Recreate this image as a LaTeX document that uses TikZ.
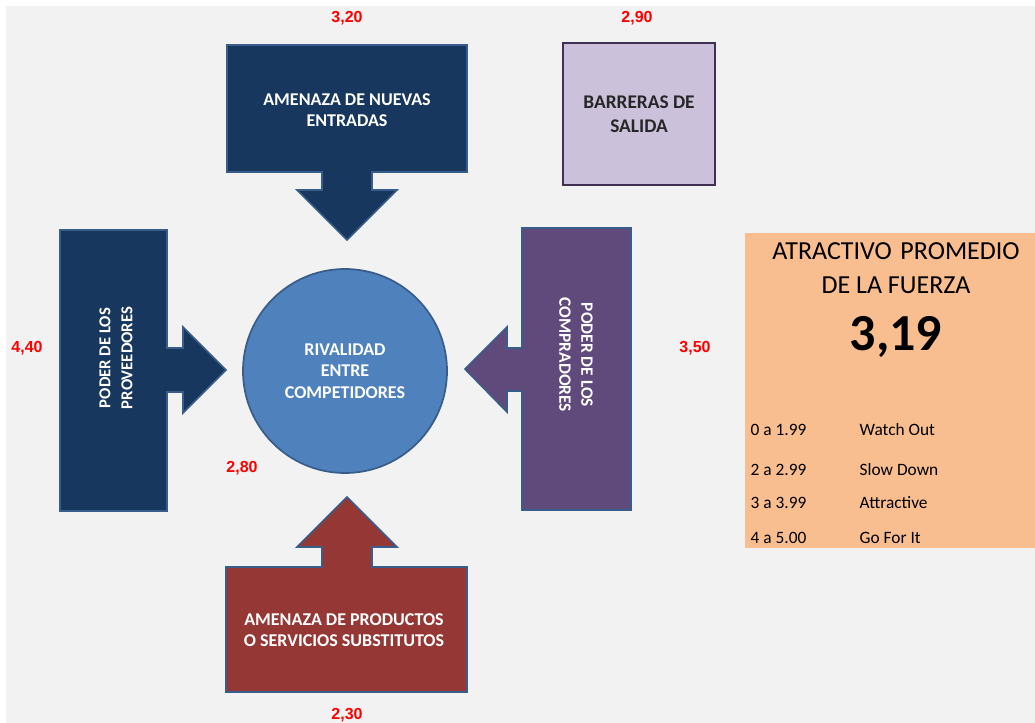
\documentclass[tikz,border=0pt]{standalone}
\usepackage{fontspec}
\setmainfont{Carlito}
\newfontfamily\numfont{Liberation Sans}
\usetikzlibrary{positioning}
\definecolor{bgray}{HTML}{F2F2F2}
\definecolor{navy}{HTML}{17375E}
\definecolor{edgeblue}{HTML}{385D8A}
\definecolor{plum}{HTML}{604A7B}
\definecolor{brick}{HTML}{953735}
\definecolor{disc}{HTML}{4F81BD}
\definecolor{lilac}{HTML}{CCC1DA}
\definecolor{lilacedge}{HTML}{403152}
\definecolor{peach}{HTML}{F9BE8F}
\tikzset{
  force/.style={draw=edgeblue, line width=1.3pt, line join=miter},
  forcetext/.style={text=white, font=\fontsize{13.5}{16}\selectfont\bfseries, align=center},
  score/.style={text=red, font=\numfont\fontsize{12}{14}\selectfont\bfseries},
  rangetext/.style={anchor=west, font=\fontsize{13}{15}\selectfont},
}

\begin{document}
\begin{tikzpicture}[x=0.75pt, y=-0.75pt]
			%%%%% START %%%%%
			\useasboundingbox (0, 0) rectangle (1035, 723);
			\fill[white] (0, 0) rectangle (1035, 723);
			\fill[bgray] (6, 6) rectangle (1035, 723);
			
			% nuevas entradas
			\draw[force, fill=navy] (227, 45) -- (467, 45) -- (467, 172) -- (372, 172) -- (372, 190) -- (397, 190) -- (347, 240) -- (297, 190) -- (322, 190) -- (322, 172) -- (227, 172) -- cycle;
			\node[forcetext] (entradas) at (347, 110) {AMENAZA DE NUEVAS\\ENTRADAS};
			\node[score] (v-entradas) at (347, 18) {3,20};
			
			% proveedores
			\draw[force, fill=navy] (60, 230) -- (167, 230) -- (167, 348) -- (183, 348) -- (183, 327) -- (226, 370) -- (183, 413) -- (183, 392) -- (167, 392) -- (167, 511) -- (60, 511) -- cycle;
			\node[forcetext, font=\fontsize{12.5}{16.5}\selectfont\bfseries, rotate=90] (proveedores) at (116, 358) {PODER DE LOS\\PROVEEDORES};
			\node[score] (v-proveedores) at (27, 348) {4,40};
			
			% compradores
			\draw[force, fill=plum] (522, 228) -- (631, 228) -- (631, 510) -- (522, 510) -- (522, 391) -- (507, 391) -- (507, 412) -- (465, 369) -- (507, 327) -- (507, 348) -- (522, 348) -- cycle;
			\node[forcetext, font=\fontsize{13}{16.5}\selectfont\bfseries, rotate=-90] (compradores) at (576, 355) {PODER DE LOS\\COMPRADORES};
			\node[score] (v-compradores) at (695, 348) {3,50};
			
			% sustitutos
			\draw[force, fill=brick] (226, 567) -- (322, 567) -- (322, 547) -- (297, 547) -- (347, 497) -- (397, 547) -- (372, 547) -- (372, 567) -- (467, 567) -- (467, 692) -- (226, 692) -- cycle;
			\node[forcetext] (sustitutos) at (344, 630) {AMENAZA DE PRODUCTOS\\O SERVICIOS SUBSTITUTOS};
			\node[score] (v-sustitutos) at (347, 715) {2,30};
			
			% rivalidad
			\node[circle, draw=edgeblue, line width=1.3pt, fill=disc, minimum size=153pt, forcetext] (rivalidad) at (345, 371) {RIVALIDAD\\ENTRE\\COMPETIDORES};
			\node[score] (v-rivalidad) at (242, 468) {2,80};
			
			% barreras
			\node[draw=lilacedge, line width=1.6pt, fill=lilac, minimum width=114pt, minimum height=106pt, align=center, font=\fontsize{14.5}{18}\selectfont\bfseries, text=black!85] (barreras) at (639, 114) {BARRERAS DE\\SALIDA};
			\node[score] (v-barreras) at (637, 18) {2,90};
			
			% promedio
			\fill[peach] (745, 233) rectangle (1035, 548);
			\node[font=\fontsize{19.5}{25.5}\selectfont, align=center] (titulo) at (896, 268) {ATRACTIVO\,\,PROMEDIO\\DE LA FUERZA};
			\node[font=\fontsize{39}{44}\selectfont\bfseries] (promedio) at (896, 337) {3,19};
			
			\node[rangetext] (r1) at (746, 430) {0 a 1.99};
			\node[rangetext] (r2) at (746, 470) {2 a 2.99};
			\node[rangetext] (r3) at (746, 503) {3 a 3.99};
			\node[rangetext] (r4) at (746, 538) {4 a 5.00};
			\node[rangetext] (t1) at (855, 430) {Watch Out};
			\node[rangetext] (t2) at (855, 470) {Slow Down};
			\node[rangetext] (t3) at (855, 503) {Attractive};
			\node[rangetext] (t4) at (855, 538) {Go For It};
			%%%%% END %%%%%
\end{tikzpicture}
\end{document}
